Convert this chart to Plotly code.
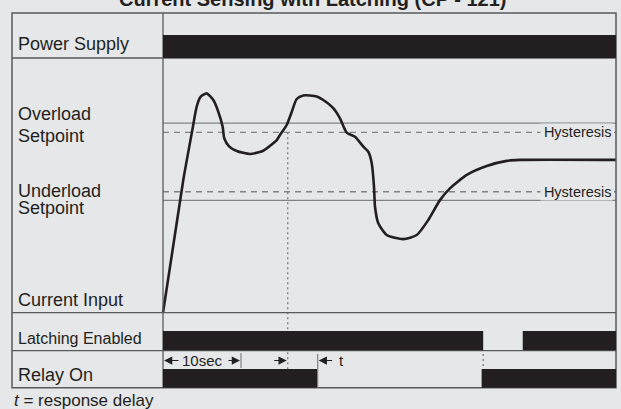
import plotly.graph_objects as go

# ---------------- data ----------------
time_s = [0.0, 2.60, 3.76, 4.32, 4.81, 5.60, 6.45, 7.01, 7.65, 7.85, 8.50, 9.45, 11.15,
          12.86, 14.58, 15.0, 15.86, 16.50, 17.14, 17.99, 19.71, 20.55, 21.83, 22.69,
          23.55, 24.62, 25.68, 26.32, 26.76, 27.05, 27.18, 27.60, 28.68, 30.81, 32.53,
          34.01, 35.51, 36.79, 38.94, 41.50, 44.06, 45.77, 58.08]
current = [0.0, 52.1, 71.7, 80.9, 84.7, 86.1, 83.5, 79.6, 73.0, 68.5, 65.2, 63.5, 62.3,
           63.6, 67.8, 69.8, 73.7, 78.8, 83.9, 85.3, 84.9, 83.5, 80.3, 76.3,
           70.7, 69.1, 65.2, 63.2, 58.7, 49.5, 41.6, 35.1, 30.5, 28.9, 30.5,
           36.4, 44.2, 48.8, 54.1, 57.6, 59.6, 60.0, 60.0]

overload_setpoint = 74.4
overload_hysteresis = 70.8
underload_hysteresis = 47.5
underload_setpoint = 44.1

t_end = 58.08
power_on = [(0.0, t_end)]
latching_on = [(0.0, 41.05), (46.12, t_end)]
relay_on = [(0.0, 19.83), (40.85, t_end)]
trip_time = 15.99
latch_release_time = 41.05
startup_delay = 10.0

title_text = "Current Sensing with Latching (CP - 121)"
row_labels = ["Power Supply", "Overload", "Setpoint", "Underload", "Setpoint",
              "Current Input", "Latching Enabled", "Relay On"]
footnote = "<i>t</i> = response delay"

# ---------------- layout geometry / style ----------------
W, H = 621, 409
BG = "#e6e7e8"
INK = "#231f20"
GRID = "#808285"
FRAME = "#58595b"
X0_PX, PX_PER_S = 163.0, 7.8          # time axis: t=0 at x=163 px
I0_PX, PX_PER_I = 312.7, 2.547        # current axis: I=0 at y=312.7 px


def xp(px):
    return px / W


def yp(py):
    return 1 - py / H


def py_to_i(py):
    return (I0_PX - py) / PX_PER_I


fig = go.Figure()

fig.add_trace(go.Scatter(
    x=time_s, y=current, mode="lines",
    line=dict(color=INK, width=2.6, shape="spline", smoothing=0.6),
    hoverinfo="skip", showlegend=False))

shapes = []
# outer frame
shapes.append(dict(type="rect", xref="paper", yref="paper", x0=xp(12), x1=xp(616),
                   y0=yp(387.7), y1=yp(13), line=dict(color=FRAME, width=1.5), layer="above"))
# vertical divider
shapes.append(dict(type="line", xref="paper", yref="paper", x0=xp(163), x1=xp(163),
                   y0=yp(387.7), y1=yp(13), line=dict(color=FRAME, width=1.3), layer="above"))
# row dividers
for py in (58, 312.7, 350.7):
    shapes.append(dict(type="line", xref="paper", yref="paper", x0=xp(12), x1=xp(616),
                       y0=yp(py), y1=yp(py), line=dict(color=FRAME, width=1.3)))

# setpoint lines
for lvl in (overload_setpoint, underload_setpoint):
    shapes.append(dict(type="line", xref="x", yref="y", x0=0, x1=t_end, y0=lvl, y1=lvl,
                       line=dict(color=GRID, width=1.2), layer="below"))
for lvl in (overload_hysteresis, underload_hysteresis):
    shapes.append(dict(type="line", xref="x", yref="y", x0=0, x1=t_end, y0=lvl, y1=lvl,
                       line=dict(color=GRID, width=1.4, dash="6px,5px"), layer="below"))

# dotted trip line and release line
shapes.append(dict(type="line", xref="x", yref="y", x0=trip_time, x1=trip_time,
                   y0=overload_hysteresis, y1=py_to_i(369),
                   line=dict(color=GRID, width=1.4, dash="2px,3px"), layer="below"))
shapes.append(dict(type="line", xref="x", yref="y", x0=latch_release_time, x1=latch_release_time,
                   y0=py_to_i(354), y1=py_to_i(369),
                   line=dict(color=GRID, width=1.4, dash="2px,3px"), layer="below"))


def bars(intervals, top, bottom):
    for a, b in intervals:
        shapes.append(dict(type="rect", xref="x", yref="paper", x0=a, x1=b,
                           y0=yp(bottom), y1=yp(top), fillcolor=INK, line=dict(width=0),
                           layer="above"))


bars(power_on, 35, 58)
bars(latching_on, 331, 350.3)
bars(relay_on, 369, 387.7)

# relay-off outline and the 10 s tick
shapes.append(dict(type="line", xref="x", yref="paper", x0=relay_on[0][1], x1=relay_on[0][1],
                   y0=yp(387.7), y1=yp(354), line=dict(color=GRID, width=1.2)))
shapes.append(dict(type="line", xref="x", yref="paper", x0=startup_delay, x1=startup_delay,
                   y0=yp(368), y1=yp(353), line=dict(color=GRID, width=1.2)))

annotations = []
# title
annotations.append(dict(text="<b>" + title_text + "</b>", xref="paper", yref="paper",
                        x=xp(312.5), y=yp(-1.5), xanchor="center", yanchor="middle",
                        showarrow=False, font=dict(size=20, color=INK, family="Arial")))

label_pos = [(43.7, 18), (114.3, 18), (135.5, 18), (191.3, 18), (208.3, 18),
             (300, 18), (338, 16), (375, 18)]
for txt, (py, fs) in zip(row_labels, label_pos):
    annotations.append(dict(text=txt, xref="paper", yref="paper", x=xp(15.5), y=yp(py),
                            xanchor="left", yanchor="middle", showarrow=False,
                            font=dict(size=fs, color=INK, family="Arial")))
annotations.append(dict(text=footnote, xref="paper", yref="paper", x=xp(12), y=yp(400),
                        xanchor="left", yanchor="middle", showarrow=False,
                        font=dict(size=17, color=INK, family="Arial")))

for lvl in (overload_hysteresis, underload_hysteresis):
    annotations.append(dict(text="\u2009Hysteresis", xref="paper", yref="y", x=xp(612.5), y=lvl,
                            xanchor="right", yanchor="middle", showarrow=False,
                            bgcolor=BG, borderpad=0,
                            font=dict(size=14.5, color=INK, family="Arial")))

ARROW_Y = yp(360.5)


def arrow(head_t, tail_t):
    annotations.append(dict(text="", xref="x", yref="paper", x=head_t, y=ARROW_Y,
                            axref="x", ax=tail_t, ayref="pixel", ay=0,
                            showarrow=True, arrowhead=2, arrowsize=1.5, arrowwidth=1.1,
                            arrowcolor=INK))


s = 1.0 / PX_PER_S
arrow(0.0 + 1.0 * s, 17 * s)
arrow(startup_delay - 1.0 * s, startup_delay - 14 * s)
arrow(trip_time - 1.0 * s, trip_time - 15 * s)
arrow(relay_on[0][1] + 1.0 * s, relay_on[0][1] + 16 * s)
annotations.append(dict(text="10sec", xref="x", yref="paper", x=startup_delay / 2, y=ARROW_Y,
                        xanchor="center", yanchor="middle", showarrow=False,
                        font=dict(size=15, color=INK, family="Arial")))
annotations.append(dict(text="t", xref="x", yref="paper", x=relay_on[0][1] + 19.5 * s, y=ARROW_Y,
                        xanchor="left", yanchor="middle", showarrow=False,
                        font=dict(size=15, color=INK, family="Arial")))

fig.update_layout(
    width=W, height=H, margin=dict(l=0, r=0, t=0, b=0),
    paper_bgcolor=BG, plot_bgcolor=BG,
    xaxis=dict(range=[-X0_PX / PX_PER_S, (W - X0_PX) / PX_PER_S], visible=False, fixedrange=True),
    yaxis=dict(range=[py_to_i(H), py_to_i(0)], visible=False, fixedrange=True),
    shapes=shapes, annotations=annotations, showlegend=False,
)

fig.write_html("out.html", config={"displayModeBar": False},
               post_script="document.body.style.margin='0';document.body.style.background='" + BG + "';")
